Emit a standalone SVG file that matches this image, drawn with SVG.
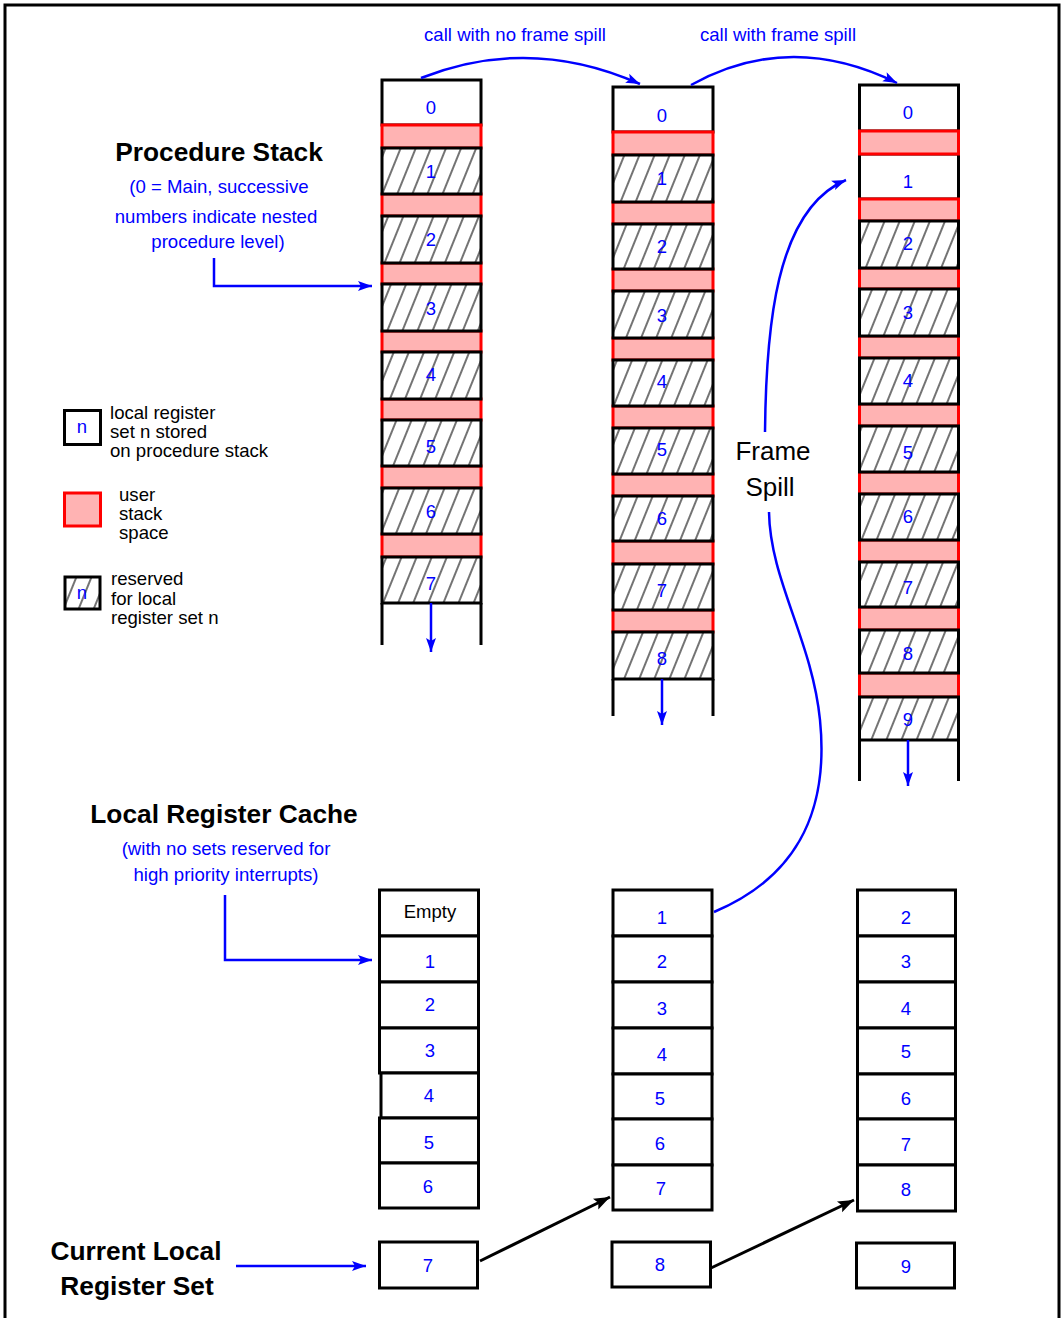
<svg xmlns="http://www.w3.org/2000/svg" width="1063" height="1318" viewBox="0 0 1063 1318">
<style>
text{font-family:"Liberation Sans",Arial,sans-serif}
.n{font-size:18.5px;fill:#0000ff;text-anchor:middle}
.b{font-size:18.6px;fill:#0000ff;text-anchor:middle}
.h{font-size:26.3px;font-weight:bold;fill:#000;text-anchor:middle}
.t{font-size:18.6px;fill:#000}
.w{fill:#fff;stroke:#000;stroke-width:3}
.x{fill:url(#hatch);stroke:#000;stroke-width:3}
.r{fill:#ffb3b3;stroke:#ff0000;stroke-width:3}
.s{fill:none;stroke:#000;stroke-width:3}
.ba{fill:none;stroke:#0000ff;stroke-width:2.5}
.ka{fill:none;stroke:#000;stroke-width:3}
</style>
<defs>
<pattern id="hatch" width="14" height="14" patternUnits="userSpaceOnUse" patternTransform="rotate(22)">
<rect width="14" height="14" fill="#fff"/>
<line x1="7" y1="-1" x2="7" y2="15" stroke="#000" stroke-width="1.1"/>
</pattern>
<marker id="ab" markerUnits="userSpaceOnUse" markerWidth="16" markerHeight="12" refX="14" refY="5" orient="auto" overflow="visible">
<path d="M0,0 L14,5 L0,10 L3,5 z" fill="#0000ff"/>
</marker>
<marker id="ak" markerUnits="userSpaceOnUse" markerWidth="18" markerHeight="14" refX="16" refY="6" orient="auto" overflow="visible">
<path d="M0,0 L16,6 L0,12 L3,6 z" fill="#000"/>
</marker>
</defs>
<rect x="0" y="0" width="1063" height="1318" fill="#fff"/>
<rect x="5" y="5" width="1054" height="1330" fill="none" stroke="#000" stroke-width="3"/>

<g id="stack1">
<rect class="w" x="382" y="80" width="99" height="45"/>
<rect class="r" x="382" y="125" width="99" height="23"/>
<rect class="r" x="382" y="194" width="99" height="22"/>
<rect class="r" x="382" y="263" width="99" height="21"/>
<rect class="r" x="382" y="331" width="99" height="21"/>
<rect class="r" x="382" y="399" width="99" height="21"/>
<rect class="r" x="382" y="466" width="99" height="22"/>
<rect class="r" x="382" y="534" width="99" height="23"/>
<rect class="x" x="382" y="148" width="99" height="46"/>
<rect class="x" x="382" y="216" width="99" height="47"/>
<rect class="x" x="382" y="284" width="99" height="47"/>
<rect class="x" x="382" y="352" width="99" height="47"/>
<rect class="x" x="382" y="420" width="99" height="46"/>
<rect class="x" x="382" y="488" width="99" height="46"/>
<rect class="x" x="382" y="557" width="99" height="46"/>
<path class="s" d="M382,603 V645 M481,603 V645"/>
<text class="n" x="431" y="114">0</text>
<text class="n" x="431" y="178">1</text>
<text class="n" x="431" y="246">2</text>
<text class="n" x="431" y="315">3</text>
<text class="n" x="431" y="381">4</text>
<text class="n" x="431" y="453">5</text>
<text class="n" x="431" y="518">6</text>
<text class="n" x="431" y="590">7</text>
</g>

<g id="stack2">
<rect class="w" x="613" y="87" width="100" height="45"/>
<rect class="r" x="613" y="132" width="100" height="23"/>
<rect class="r" x="613" y="202" width="100" height="22"/>
<rect class="r" x="613" y="269" width="100" height="22"/>
<rect class="r" x="613" y="338" width="100" height="22"/>
<rect class="r" x="613" y="406" width="100" height="22"/>
<rect class="r" x="613" y="474" width="100" height="22"/>
<rect class="r" x="613" y="541" width="100" height="23"/>
<rect class="r" x="613" y="610" width="100" height="22"/>
<rect class="x" x="613" y="155" width="100" height="47"/>
<rect class="x" x="613" y="224" width="100" height="45"/>
<rect class="x" x="613" y="291" width="100" height="47"/>
<rect class="x" x="613" y="360" width="100" height="46"/>
<rect class="x" x="613" y="428" width="100" height="46"/>
<rect class="x" x="613" y="496" width="100" height="45"/>
<rect class="x" x="613" y="564" width="100" height="46"/>
<rect class="x" x="613" y="632" width="100" height="47"/>
<path class="s" d="M613,679 V716 M713,679 V716"/>
<text class="n" x="662" y="122">0</text>
<text class="n" x="662" y="185">1</text>
<text class="n" x="662" y="253">2</text>
<text class="n" x="662" y="322">3</text>
<text class="n" x="662" y="388">4</text>
<text class="n" x="662" y="456">5</text>
<text class="n" x="662" y="525">6</text>
<text class="n" x="662" y="597">7</text>
<text class="n" x="662" y="665">8</text>
</g>

<g id="stack3">
<rect class="w" x="859.5" y="85" width="99" height="46"/>
<rect class="w" x="859.5" y="154" width="99" height="45"/>
<rect class="r" x="859.5" y="131" width="99" height="23"/>
<rect class="r" x="859.5" y="199" width="99" height="22"/>
<rect class="r" x="859.5" y="268" width="99" height="21"/>
<rect class="r" x="859.5" y="336" width="99" height="22"/>
<rect class="r" x="859.5" y="404" width="99" height="22"/>
<rect class="r" x="859.5" y="472" width="99" height="22"/>
<rect class="r" x="859.5" y="540" width="99" height="22"/>
<rect class="r" x="859.5" y="607" width="99" height="23"/>
<rect class="r" x="859.5" y="673" width="99" height="24"/>
<rect class="x" x="859.5" y="221" width="99" height="47"/>
<rect class="x" x="859.5" y="289" width="99" height="47"/>
<rect class="x" x="859.5" y="358" width="99" height="46"/>
<rect class="x" x="859.5" y="426" width="99" height="46"/>
<rect class="x" x="859.5" y="494" width="99" height="46"/>
<rect class="x" x="859.5" y="562" width="99" height="45"/>
<rect class="x" x="859.5" y="630" width="99" height="43"/>
<rect class="x" x="859.5" y="697" width="99" height="43"/>
<path class="s" d="M859.5,740 V781 M958.5,740 V781"/>
<text class="n" x="908" y="119">0</text>
<text class="n" x="908" y="188">1</text>
<text class="n" x="908" y="250">2</text>
<text class="n" x="908" y="319">3</text>
<text class="n" x="908" y="387">4</text>
<text class="n" x="908" y="459">5</text>
<text class="n" x="908" y="523">6</text>
<text class="n" x="908" y="594">7</text>
<text class="n" x="908" y="660">8</text>
<text class="n" x="908" y="726">9</text>
</g>

<g id="cache1">
<rect class="w" x="379.5" y="890" width="99" height="46"/>
<rect class="w" x="379.5" y="936" width="99" height="46"/>
<rect class="w" x="379.5" y="982" width="99" height="46"/>
<rect class="w" x="379.5" y="1028" width="99" height="45"/>
<rect class="w" x="381" y="1073" width="97.5" height="45"/>
<rect class="w" x="379.5" y="1118" width="99" height="45"/>
<rect class="w" x="379.5" y="1163" width="99" height="45"/>
<text x="430" y="918" font-size="18.5" text-anchor="middle" fill="#000">Empty</text>
<text class="n" x="430" y="968">1</text>
<text class="n" x="430" y="1011">2</text>
<text class="n" x="430" y="1057">3</text>
<text class="n" x="429" y="1102">4</text>
<text class="n" x="429" y="1149">5</text>
<text class="n" x="428" y="1193">6</text>
</g>
<g id="current1">
<rect class="w" x="379.5" y="1242" width="98" height="46"/>
<text class="n" x="428" y="1272">7</text>
</g>

<g id="cache2">
<rect class="w" x="613" y="890" width="99" height="46"/>
<rect class="w" x="613" y="936" width="99" height="46"/>
<rect class="w" x="613" y="982" width="99" height="46"/>
<rect class="w" x="613" y="1028" width="99" height="46"/>
<rect class="w" x="613" y="1074" width="99" height="45"/>
<rect class="w" x="613" y="1119" width="99" height="46"/>
<rect class="w" x="613" y="1165" width="99" height="45"/>
<text class="n" x="662" y="924">1</text>
<text class="n" x="662" y="968">2</text>
<text class="n" x="662" y="1015">3</text>
<text class="n" x="662" y="1061">4</text>
<text class="n" x="660" y="1105">5</text>
<text class="n" x="660" y="1150">6</text>
<text class="n" x="661" y="1195">7</text>
</g>
<g id="current2">
<rect class="w" x="612" y="1242" width="98.5" height="45"/>
<text class="n" x="660" y="1271">8</text>
</g>

<g id="cache3">
<rect class="w" x="857.5" y="890" width="98" height="46"/>
<rect class="w" x="857.5" y="936" width="98" height="46"/>
<rect class="w" x="857.5" y="982" width="98" height="46"/>
<rect class="w" x="857.5" y="1028" width="98" height="46"/>
<rect class="w" x="857.5" y="1074" width="98" height="45"/>
<rect class="w" x="857.5" y="1119" width="98" height="46"/>
<rect class="w" x="857.5" y="1165" width="98" height="46"/>
<text class="n" x="906" y="924">2</text>
<text class="n" x="906" y="968">3</text>
<text class="n" x="906" y="1015">4</text>
<text class="n" x="906" y="1058">5</text>
<text class="n" x="906" y="1105">6</text>
<text class="n" x="906" y="1151">7</text>
<text class="n" x="906" y="1196">8</text>
</g>
<g id="current3">
<rect class="w" x="856.5" y="1243" width="98" height="45"/>
<text class="n" x="906" y="1273">9</text>
</g>

<g id="legend">
<rect class="w" x="64.5" y="410.5" width="36" height="34"/>
<text class="n" x="82" y="433">n</text>
<text class="t" x="110" y="419">local register</text>
<text class="t" x="110" y="438">set n stored</text>
<text class="t" x="110" y="457">on procedure stack</text>
<rect class="r" x="64.5" y="493" width="36" height="33"/>
<text class="t" x="119" y="501">user</text>
<text class="t" x="119" y="520">stack</text>
<text class="t" x="119" y="539">space</text>
<rect class="x" x="65" y="577" width="35" height="32"/>
<text class="n" x="82" y="599">n</text>
<text class="t" x="111" y="585">reserved</text>
<text class="t" x="111" y="605">for local</text>
<text class="t" x="111" y="624">register set n</text>
</g>

<g id="labels">
<text class="h" x="219" y="161">Procedure Stack</text>
<text class="b" x="219" y="193">(0 = Main, successive</text>
<text class="b" x="216" y="223">numbers indicate nested</text>
<text class="b" x="218" y="248">procedure level)</text>
<text class="h" x="224" y="823">Local Register Cache</text>
<text class="b" x="226" y="855">(with no sets reserved for</text>
<text class="b" x="226" y="881">high priority interrupts)</text>
<text class="h" x="136" y="1260">Current Local</text>
<text class="h" x="137" y="1295">Register Set</text>
<text class="b" x="515" y="41">call with no frame spill</text>
<text class="b" x="778" y="41">call with frame spill</text>
<text x="773" y="460" font-size="26" text-anchor="middle" fill="#000">Frame</text>
<text x="770" y="496" font-size="26" text-anchor="middle" fill="#000">Spill</text>
</g>

<g id="connectors">
<path class="ba" d="M214,258 V286 H372" marker-end="url(#ab)"/>
<path class="ba" d="M225,895 V960 H372" marker-end="url(#ab)"/>
<path class="ba" d="M236,1266 H366" marker-end="url(#ab)"/>
<path class="ba" d="M431,603 V652" marker-end="url(#ab)"/>
<path class="ba" d="M662,679 V725" marker-end="url(#ab)"/>
<path class="ba" d="M908,740 V786" marker-end="url(#ab)"/>
<path class="ba" d="M421,78 Q530,35 640,84" marker-end="url(#ab)"/>
<path class="ba" d="M691,85 Q790,30 897,83" marker-end="url(#ab)"/>
<path class="ba" d="M714,912 C790,880 830,820 820,720 C812,640 770,580 769,512"/>
<path class="ba" d="M765,432 C766,330 775,210 846,180" marker-end="url(#ab)"/>
<path class="ka" d="M480,1261 L610,1197" marker-end="url(#ak)"/>
<path class="ka" d="M711,1268 L854,1200" marker-end="url(#ak)"/>
</g>
</svg>
